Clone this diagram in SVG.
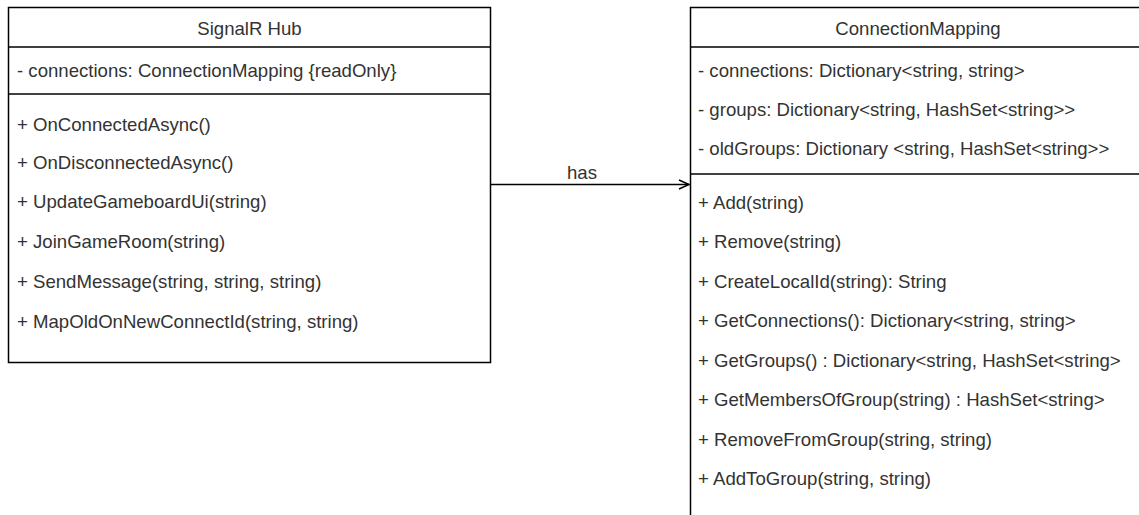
<svg xmlns="http://www.w3.org/2000/svg" width="1139" height="515" viewBox="0 0 1139 515">
<defs>
<style>
.box{fill:#ffffff;stroke:#000000;stroke-width:1.5}
.sep{stroke:#000000;stroke-width:1.5;fill:none}
text{font-family:"Liberation Sans",Arial,Helvetica,sans-serif;font-size:18.6px;fill:#333333;dominant-baseline:central}
.title{text-anchor:middle}
.conn{stroke:#000000;stroke-width:1.5;fill:none}
</style>
<marker id="open" markerWidth="16" markerHeight="14" refX="13" refY="7" orient="auto" markerUnits="userSpaceOnUse">
<path d="M3,2.5 L13,7 L3,11.5" fill="none" stroke="#000000" stroke-width="1.5"/>
</marker>
</defs>
<rect width="1139" height="515" fill="#ffffff"/>
<g id="signalr-hub">
<rect class="box" x="8.5" y="7.5" width="482" height="355"/>
<line class="sep" x1="8.5" y1="47" x2="490.5" y2="47"/>
<line class="sep" x1="8.5" y1="94" x2="490.5" y2="94"/>
<text class="title" x="249.5" y="28">SignalR Hub</text>
<text x="17" y="70">- connections: ConnectionMapping {readOnly}</text>
<text x="17" y="124">+ OnConnectedAsync()</text>
<text x="17" y="162">+ OnDisconnectedAsync()</text>
<text x="17" y="201.5">+ UpdateGameboardUi(string)</text>
<text x="17" y="241">+ JoinGameRoom(string)</text>
<text x="17" y="281">+ SendMessage(string, string, string)</text>
<text x="17" y="321">+ MapOldOnNewConnectId(string, string)</text>
</g>
<g id="connection-mapping">
<rect class="box" x="690.5" y="7.5" width="456" height="530"/>
<line class="sep" x1="690.5" y1="47" x2="1146.5" y2="47"/>
<line class="sep" x1="690.5" y1="174" x2="1146.5" y2="174"/>
<text class="title" x="918" y="28">ConnectionMapping</text>
<text x="698" y="70">- connections: Dictionary&lt;string, string&gt;</text>
<text x="698" y="109">- groups: Dictionary&lt;string, HashSet&lt;string&gt;&gt;</text>
<text x="698" y="148">- oldGroups: Dictionary &lt;string, HashSet&lt;string&gt;&gt;</text>
<text x="698" y="202">+ Add(string)</text>
<text x="698" y="241.5">+ Remove(string)</text>
<text x="698" y="281">+ CreateLocalId(string): String</text>
<text x="698" y="320.5">+ GetConnections(): Dictionary&lt;string, string&gt;</text>
<text x="698" y="360">+ GetGroups() : Dictionary&lt;string, HashSet&lt;string&gt;</text>
<text x="698" y="399.5">+ GetMembersOfGroup(string) : HashSet&lt;string&gt;</text>
<text x="698" y="439">+ RemoveFromGroup(string, string)</text>
<text x="698" y="478.5">+ AddToGroup(string, string)</text>
</g>
<g id="connectors">
<path class="conn" d="M490.5,184.5 L689,184.5" marker-end="url(#open)"/>
<text class="title" x="582" y="172">has</text>
</g>
</svg>
